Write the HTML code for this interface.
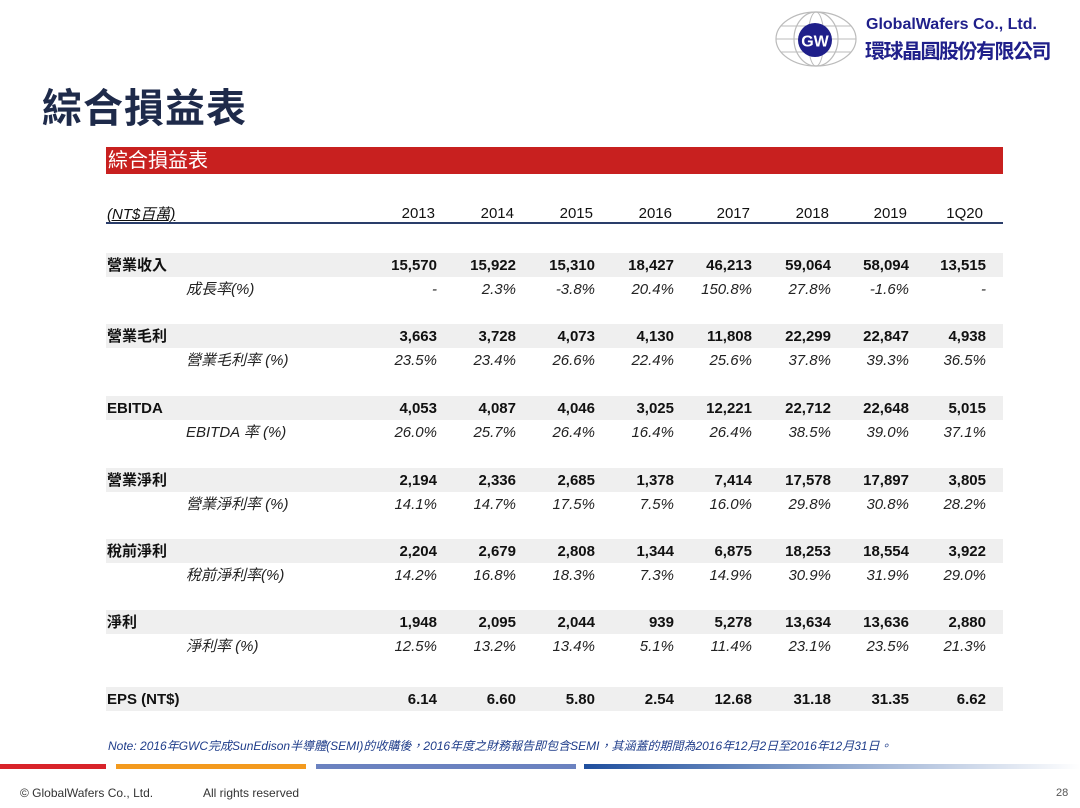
<!DOCTYPE html>
<html><head><meta charset="utf-8"><style>
body{margin:0;width:1080px;height:808px;background:#fff;position:relative;overflow:hidden;font-family:"Liberation Sans","Noto Sans CJK TC",sans-serif;color:#111}
.a{position:absolute;white-space:nowrap}
.band{position:absolute;left:106px;width:897px;height:24px;background:#efefef}
.m{position:absolute;font-size:15px;font-weight:bold;line-height:24px}
.s{position:absolute;font-size:15px;font-style:italic;line-height:24px;color:#222}
.v{position:absolute;width:70px;text-align:right}
</style></head><body>
<svg class="a" style="left:774px;top:9px" width="84" height="60" viewBox="0 0 84 60">
<ellipse cx="42" cy="30" rx="40" ry="27" fill="none" stroke="#bbb" stroke-width="1.2"/>
<ellipse cx="42" cy="30" rx="22" ry="27" fill="none" stroke="#bbb" stroke-width="1.2"/>
<ellipse cx="42" cy="30" rx="8" ry="27" fill="none" stroke="#bbb" stroke-width="1"/>
<line x1="2" y1="30" x2="82" y2="30" stroke="#bbb"/><line x1="7" y1="17" x2="77" y2="17" stroke="#bbb"/><line x1="7" y1="43" x2="77" y2="43" stroke="#bbb"/>
<circle cx="41" cy="31" r="17" fill="#1f1f8a"/>
<text x="41" y="37.5" font-family="Liberation Sans" font-weight="bold" font-size="16" fill="#fff" text-anchor="middle">GW</text></svg>
<div class="a" style="left:866px;top:16px;font-size:16px;font-weight:bold;color:#1f1f8a">GlobalWafers Co., Ltd.</div>
<div class="a" style="left:865px;top:35px;font-size:20px;font-weight:bold;color:#1f1f8a;letter-spacing:-1.5px">環球晶圓股份有限公司</div>
<div class="a" style="left:42px;top:76px;font-size:40px;font-weight:bold;color:#1e2a4a;letter-spacing:1px">綜合損益表</div>
<div class="a" style="left:106px;top:147px;width:897px;height:27px;background:#c8201f"></div>
<div class="a" style="left:108px;top:148px;font-size:20px;color:#fff;line-height:26px">綜合損益表</div>
<div class="a" style="left:106px;top:222px;width:897px;height:2px;background:#2a3d6a"></div>
<div class="a" style="left:107px;top:203px;font-size:15px;font-style:italic;text-decoration:underline">(NT$百萬)</div>
<div id="t"></div>
<div class="a" style="left:108px;top:737px;font-size:12px;font-style:italic;color:#1f3d8a">Note: 2016年GWC完成SunEdison半導體(SEMI)的收購後，2016年度之財務報告即包含SEMI，其涵蓋的期間為2016年12月2日至2016年12月31日。</div>
<div class="a" style="left:0;top:764px;width:106px;height:5px;background:#d8232a"></div>
<div class="a" style="left:116px;top:764px;width:190px;height:5px;background:#f39a1e"></div>
<div class="a" style="left:316px;top:764px;width:260px;height:5px;background:#6b82c0"></div>
<div class="a" style="left:584px;top:764px;width:496px;height:5px;background:linear-gradient(to right,#1f4f9e,#fff)"></div>
<div class="a" style="left:20px;top:786px;font-size:12px;color:#333">© GlobalWafers Co., Ltd.</div>
<div class="a" style="left:203px;top:786px;font-size:12px;color:#333">All rights reserved</div>
<div class="a" style="left:1056px;top:787px;font-size:11px;color:#555">28</div>
<script>
var R=[437,516,595,674,752,831,909,986];
var yrs=["2013","2014","2015","2016","2017","2018","2019","1Q20"];
var h='';
yrs.forEach(function(y,i){h+='<div class="a v" style="left:'+(R[i]-70+ (i==7?-3:-2))+'px;top:205px;font-size:15px">'+y+'</div>';});
var rows=[
[253,"營業收入",["15,570","15,922","15,310","18,427","46,213","59,064","58,094","13,515"],"成長率(%)",["-","2.3%","-3.8%","20.4%","150.8%","27.8%","-1.6%","-"]],
[324,"營業毛利",["3,663","3,728","4,073","4,130","11,808","22,299","22,847","4,938"],"營業毛利率 (%)",["23.5%","23.4%","26.6%","22.4%","25.6%","37.8%","39.3%","36.5%"]],
[396,"EBITDA",["4,053","4,087","4,046","3,025","12,221","22,712","22,648","5,015"],"EBITDA 率 (%)",["26.0%","25.7%","26.4%","16.4%","26.4%","38.5%","39.0%","37.1%"]],
[468,"營業淨利",["2,194","2,336","2,685","1,378","7,414","17,578","17,897","3,805"],"營業淨利率 (%)",["14.1%","14.7%","17.5%","7.5%","16.0%","29.8%","30.8%","28.2%"]],
[539,"稅前淨利",["2,204","2,679","2,808","1,344","6,875","18,253","18,554","3,922"],"稅前淨利率(%)",["14.2%","16.8%","18.3%","7.3%","14.9%","30.9%","31.9%","29.0%"]],
[610,"淨利",["1,948","2,095","2,044","939","5,278","13,634","13,636","2,880"],"淨利率 (%)",["12.5%","13.2%","13.4%","5.1%","11.4%","23.1%","23.5%","21.3%"]],
[687,"EPS (NT$)",["6.14","6.60","5.80","2.54","12.68","31.18","31.35","6.62"],null,null]];
rows.forEach(function(r){
 h+='<div class="band" style="top:'+r[0]+'px"></div>';
 h+='<div class="m" style="left:107px;top:'+(r[0]+1)+'px">'+r[1]+'</div>';
 r[2].forEach(function(v,i){h+='<div class="m v" style="left:'+(R[i]-70)+'px;top:'+(r[0]+1)+'px">'+v+'</div>';});
 if(r[3]){var y=r[0]+25;
 h+='<div class="s" style="left:186px;top:'+y+'px">'+r[3]+'</div>';
 r[4].forEach(function(v,i){h+='<div class="s v" style="left:'+(R[i]-70)+'px;top:'+y+'px">'+v+'</div>';});}
});
document.getElementById('t').innerHTML=h;
</script>
</body></html>
